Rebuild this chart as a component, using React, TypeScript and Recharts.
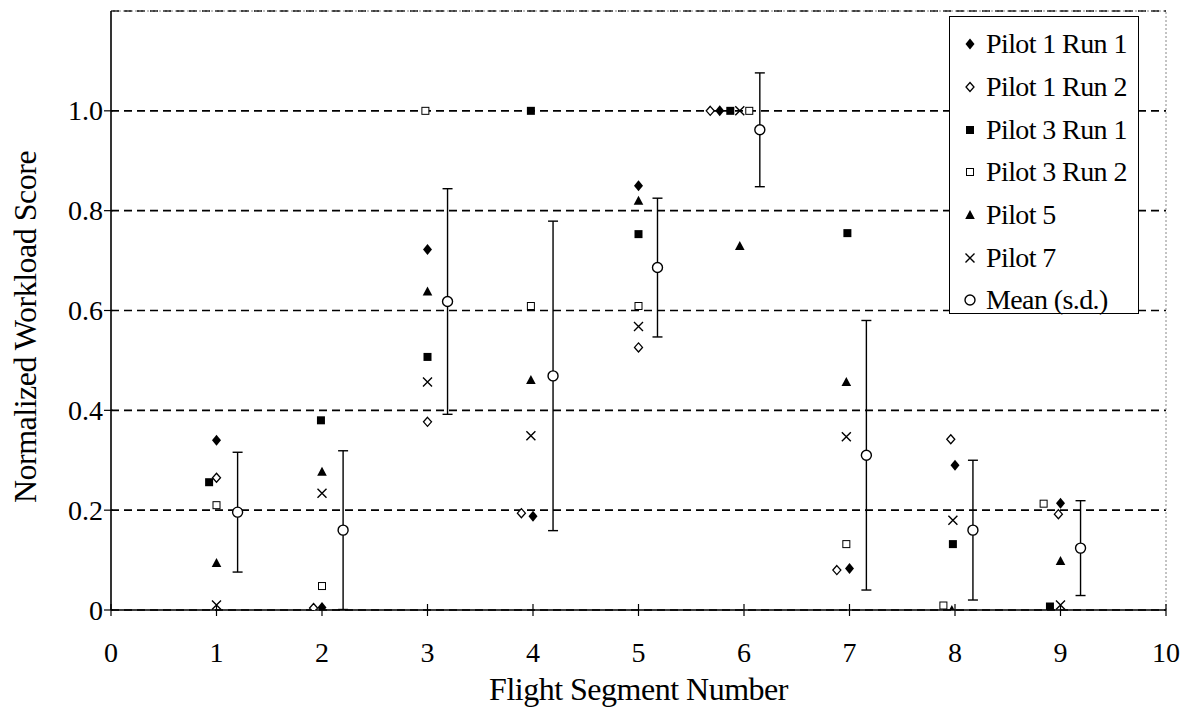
import { ScatterChart, Scatter, XAxis, YAxis, CartesianGrid, ErrorBar, Legend, ReferenceLine } from "recharts";

const FONT = '"Liberation Serif", Tinos, "Times New Roman", Times, "DejaVu Serif", serif';

const X_TICKS = [0, 1, 2, 3, 4, 5, 6, 7, 8, 9, 10];
const Y_TICKS = [0, 0.2, 0.4, 0.6, 0.8, 1.0];

const P1R1_X = [1, 2, 3, 4, 5, 5.77, 7, 8, 9];
const P1R1_Y = [0.34, 0.005, 0.722, 0.188, 0.85, 1.0, 0.083, 0.29, 0.214];
const P1R2_X = [1, 1.92, 3, 3.89, 5, 5.68, 6.88, 7.96, 8.98];
const P1R2_Y = [0.265, 0.004, 0.377, 0.194, 0.526, 1.0, 0.08, 0.342, 0.192];
const P3R1_X = [0.93, 1.99, 3, 3.98, 5, 5.87, 6.98, 7.98, 8.9];
const P3R1_Y = [0.256, 0.38, 0.507, 1.0, 0.753, 1.0, 0.755, 0.132, 0.007];
const P3R2_X = [1, 2, 2.98, 3.98, 5, 6.05, 6.97, 7.89, 8.84];
const P3R2_Y = [0.21, 0.048, 1.0, 0.609, 0.609, 1.0, 0.132, 0.009, 0.213];
const P5_X = [1, 2, 3, 3.98, 5, 5.96, 6.97, 7.97, 9];
const P5_Y = [0.094, 0.277, 0.638, 0.461, 0.82, 0.729, 0.457, 0, 0.098];
const P7_X = [1, 2, 3, 3.98, 5, 5.96, 6.97, 7.98, 9];
const P7_Y = [0.01, 0.234, 0.457, 0.349, 0.568, 1.0, 0.347, 0.18, 0.01];
const MEAN_X = [1.2, 2.2, 3.19, 4.19, 5.18, 6.15, 7.16, 8.17, 9.19];
const MEAN_Y = [0.196, 0.16, 0.618, 0.469, 0.686, 0.962, 0.31, 0.16, 0.124];
const MEAN_SD = [0.12, 0.159, 0.226, 0.31, 0.139, 0.114, 0.27, 0.14, 0.095];

const zip = (xs: number[], ys: number[], sd?: number[]) =>
  xs.map((x, i) => (sd ? { x, y: ys[i], sd: sd[i] } : { x, y: ys[i] }));

const SERIES = [
  { name: "Pilot 1 Run 1", kind: "diamondFilled", data: zip(P1R1_X, P1R1_Y) },
  { name: "Pilot 1 Run 2", kind: "diamondOpen", data: zip(P1R2_X, P1R2_Y) },
  { name: "Pilot 3 Run 1", kind: "squareFilled", data: zip(P3R1_X, P3R1_Y) },
  { name: "Pilot 3 Run 2", kind: "squareOpen", data: zip(P3R2_X, P3R2_Y) },
  { name: "Pilot 5", kind: "triangle", data: zip(P5_X, P5_Y) },
  { name: "Pilot 7", kind: "cross", data: zip(P7_X, P7_Y) },
];
const MEAN_NAME = "Mean (s.d.)";
const LEGEND_ORDER = [...SERIES.map((s) => s.name), MEAN_NAME];

function Marker({ kind, cx, cy }: { kind: string; cx: number; cy: number }) {
  if (cx == null || cy == null) return null;
  switch (kind) {
    case "diamondFilled":
      return <path d={`M${cx},${cy - 5.5}L${cx + 4.5},${cy}L${cx},${cy + 5.5}L${cx - 4.5},${cy}Z`} fill="#000" />;
    case "diamondOpen":
      return (
        <path
          d={`M${cx},${cy - 4.5}L${cx + 4},${cy}L${cx},${cy + 4.5}L${cx - 4},${cy}Z`}
          fill="#fff"
          stroke="#000"
          strokeWidth={1.3}
        />
      );
    case "squareFilled":
      return <rect x={cx - 4} y={cy - 4} width={8} height={8} fill="#000" />;
    case "squareOpen":
      return <rect x={cx - 3.5} y={cy - 3.5} width={7} height={7} fill="#fff" stroke="#000" strokeWidth={1} />;
    case "triangle":
      return <path d={`M${cx},${cy - 5}L${cx + 4.8},${cy + 4}L${cx - 4.8},${cy + 4}Z`} fill="#000" />;
    case "cross":
      return (
        <path
          d={`M${cx - 4.5},${cy - 4.5}L${cx + 4.5},${cy + 4.5}M${cx + 4.5},${cy - 4.5}L${cx - 4.5},${cy + 4.5}`}
          stroke="#000"
          strokeWidth={1.4}
        />
      );
    default:
      return <circle cx={cx} cy={cy} r={5} fill="#fff" stroke="#000" strokeWidth={1.4} />;
  }
}

const XTick = (props: any) => {
  const { x, y, payload } = props;
  return (
    <g>
      <line x1={x} x2={x} y1={y - 6} y2={y + 6} stroke="#000" strokeWidth={1.2} />
      <text x={x} y={y + 52} textAnchor="middle" fontSize={28} style={{ fontFamily: FONT }} fill="#000">
        {payload.value}
      </text>
    </g>
  );
};

const YTick = (props: any) => {
  const { x, y, payload } = props;
  const v = payload.value;
  return (
    <g>
      <line x1={x - 7} x2={x + 2} y1={y} y2={y} stroke="#000" strokeWidth={1.2} />
      <text x={x - 8} y={y} dy="0.34em" textAnchor="end" fontSize={28} style={{ fontFamily: FONT }} fill="#000">
        {v === 0 ? "0" : v.toFixed(1)}
      </text>
    </g>
  );
};

const kindOf = (name: string) => SERIES.find((s) => s.name === name)?.kind ?? "circle";

const LegendBox = (props: any) => {
  const payload = [...(props.payload || [])].sort(
    (a: any, b: any) => LEGEND_ORDER.indexOf(a.value) - LEGEND_ORDER.indexOf(b.value)
  );
  return (
    <div
      style={{
        boxSizing: "border-box",
        width: 190,
        height: 298,
        border: "1.5px solid #000",
        background: "#fff",
        paddingTop: 6,
        fontFamily: FONT,
        fontSize: 28,
        color: "#000",
      }}
    >
      {payload.map((e: any) => (
        <div key={e.value} style={{ display: "flex", alignItems: "center", height: 42.7 }}>
          <svg width={36} height={20} style={{ flexShrink: 0 }}>
            <Marker kind={kindOf(e.value)} cx={20} cy={10} />
          </svg>
          <span style={{ letterSpacing: -0.6, whiteSpace: "nowrap" }}>{e.value}</span>
        </div>
      ))}
    </div>
  );
};

export default function App() {
  return (
    <div style={{ position: "absolute", left: 0, top: 0, width: 1190, height: 707, background: "#fff" }}>
      <ScatterChart width={1190} height={707} margin={{ top: 11, right: 24, bottom: 0, left: 0 }}>
        <CartesianGrid vertical={false} stroke="#000" strokeDasharray="8 5" strokeWidth={1.6} />
        <XAxis
          type="number"
          dataKey="x"
          domain={[0, 10]}
          ticks={X_TICKS}
          height={97}
          tickSize={0}
          tickMargin={0}
          tickLine={false}
          tick={XTick}
          axisLine={{ stroke: "#000", strokeWidth: 1.6 }}
          interval={0}
          allowDataOverflow
          label={{
            value: "Flight Segment Number",
            position: "insideBottom",
            offset: 7,
            style: { fontSize: 32, fontFamily: FONT, fill: "#000", letterSpacing: -0.5 },
          }}
        />
        <YAxis
          type="number"
          dataKey="y"
          domain={[0, 1.2]}
          ticks={Y_TICKS}
          width={111}
          tickSize={0}
          tickMargin={0}
          tickLine={false}
          tick={YTick}
          interval={0}
          axisLine={{ stroke: "#000", strokeWidth: 1.6 }}
          allowDataOverflow
          label={{
            content: () => (
              <text
                x={36}
                y={327}
                transform="rotate(-90 36 327)"
                textAnchor="middle"
                fontSize={32}
                style={{ fontFamily: FONT, letterSpacing: -0.5 }}
                fill="#000"
              >
                Normalized Workload Score
              </text>
            ),
          }}
        />
        <ReferenceLine y={1.2} stroke="#888" strokeDasharray="2 2" strokeWidth={1} />
        <ReferenceLine x={10} stroke="#888" strokeDasharray="2 2" strokeWidth={1} />
        {SERIES.map((s) => (
          <Scatter
            key={s.name}
            name={s.name}
            data={s.data}
            isAnimationActive={false}
            shape={(p: any) => <Marker kind={s.kind} cx={p.cx} cy={p.cy} />}
          />
        ))}
        <Scatter
          name={MEAN_NAME}
          data={zip(MEAN_X, MEAN_Y, MEAN_SD)}
          isAnimationActive={false}
          shape={(p: any) => <Marker kind="circle" cx={p.cx} cy={p.cy} />}
        >
          <ErrorBar dataKey="sd" direction="y" width={5} stroke="#000" strokeWidth={1.4} />
        </Scatter>
        <Legend
          layout="vertical"
          align="center"
          verticalAlign="middle"
          content={LegendBox}
          wrapperStyle={{ left: 949, top: 16, width: 190, height: 298 }}
        />
      </ScatterChart>
    </div>
  );
}
